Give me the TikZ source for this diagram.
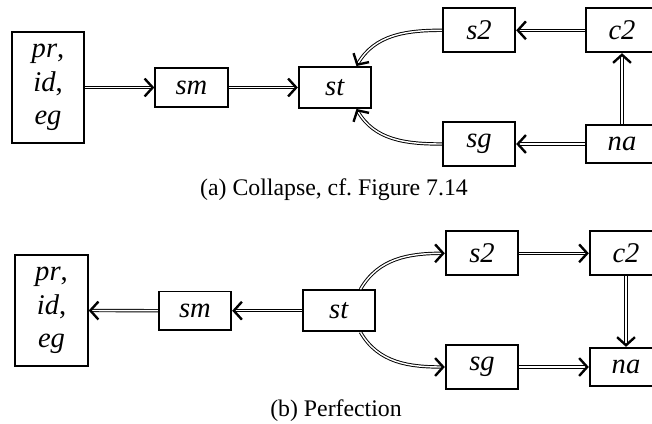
\documentclass[tikz,border=0pt]{standalone}
\usepackage{fontspec}
\setmainfont{Liberation Serif}[ItalicFont={Liberation Serif Italic}]
\usetikzlibrary{arrows.meta}

\tikzset{
    box/.style={draw, line width=0.75pt, minimum width=30.5pt, inner xsep=4pt,
        inner ysep=5.2pt, font=\fontsize{12}{14}\selectfont},
    bigbox/.style={box, minimum height=46pt, align=center},
    dbl/.style={double, double distance=0.6pt, line width=0.4pt,
        -{Straight Barb[length=3.4pt,width=7.5pt,line width=1pt]}},
    capt/.style={font=\fontsize{10}{12}\selectfont}
}

\begin{document}
\begin{tikzpicture}[x=0.4202pt,y=0.4202pt]
    \useasboundingbox (0,0) rectangle (652,423);

    % (a) collapse
    \node[bigbox] (pra) at (48,335.5) {\textit{pr},\\\textit{id},\\\textit{eg}};
    \node[box] (sma) at (191.5,335.5) {\textit{sm}};
    \node[box] (sta) at (335,335.5) {\textit{st}};
    \node[box] (s2a) at (479,392.7) {\textit{s2}};
    \node[box] (c2a) at (622,392.7) {\textit{c2}};
    \node[box] (sga) at (479,279) {\textit{sg}};
    \node[box] (naa) at (622,279) {\textit{na}};
    \node[capt] (capa) at (334,233) {(a) Collapse, cf.\ Figure 7.14};

    \draw[dbl] (pra.east) -- (sma.west);
    \draw[dbl] (sma.east) -- (sta.west);
    \draw[dbl] (s2a.west) to[out=180,in=60] (sta.45);
    \draw[dbl] (sga.west) to[out=180,in=-60] (sta.-45);
    \draw[dbl] (c2a.west) -- (s2a.east);
    \draw[dbl] (naa.west) -- (sga.east);
    \draw[dbl] (naa.north) -- (c2a.south);

    % (b) perfection
    \node[bigbox] (prb) at (51.5,112.5) {\textit{pr},\\\textit{id},\\\textit{eg}};
    \node[box] (smb) at (195,112.3) {\textit{sm}};
    \node[box] (stb) at (339,112.3) {\textit{st}};
    \node[box] (s2b) at (482,169.7) {\textit{s2}};
    \node[box] (c2b) at (626,169.7) {\textit{c2}};
    \node[box] (sgb) at (482,56) {\textit{sg}};
    \node[box] (nab) at (626,56) {\textit{na}};
    \node[capt] (capb) at (336,12) {(b) Perfection};

    \draw[dbl] (stb.west) -- (smb.east);
    \draw[dbl] (smb.west) -- (prb.east);
    \draw[dbl] (stb.45) to[out=60,in=180] (s2b.west);
    \draw[dbl] (stb.-45) to[out=-60,in=180] (sgb.west);
    \draw[dbl] (s2b.east) -- (c2b.west);
    \draw[dbl] (sgb.east) -- (nab.west);
    \draw[dbl] (c2b.south) -- (nab.north);
\end{tikzpicture}
\end{document}
